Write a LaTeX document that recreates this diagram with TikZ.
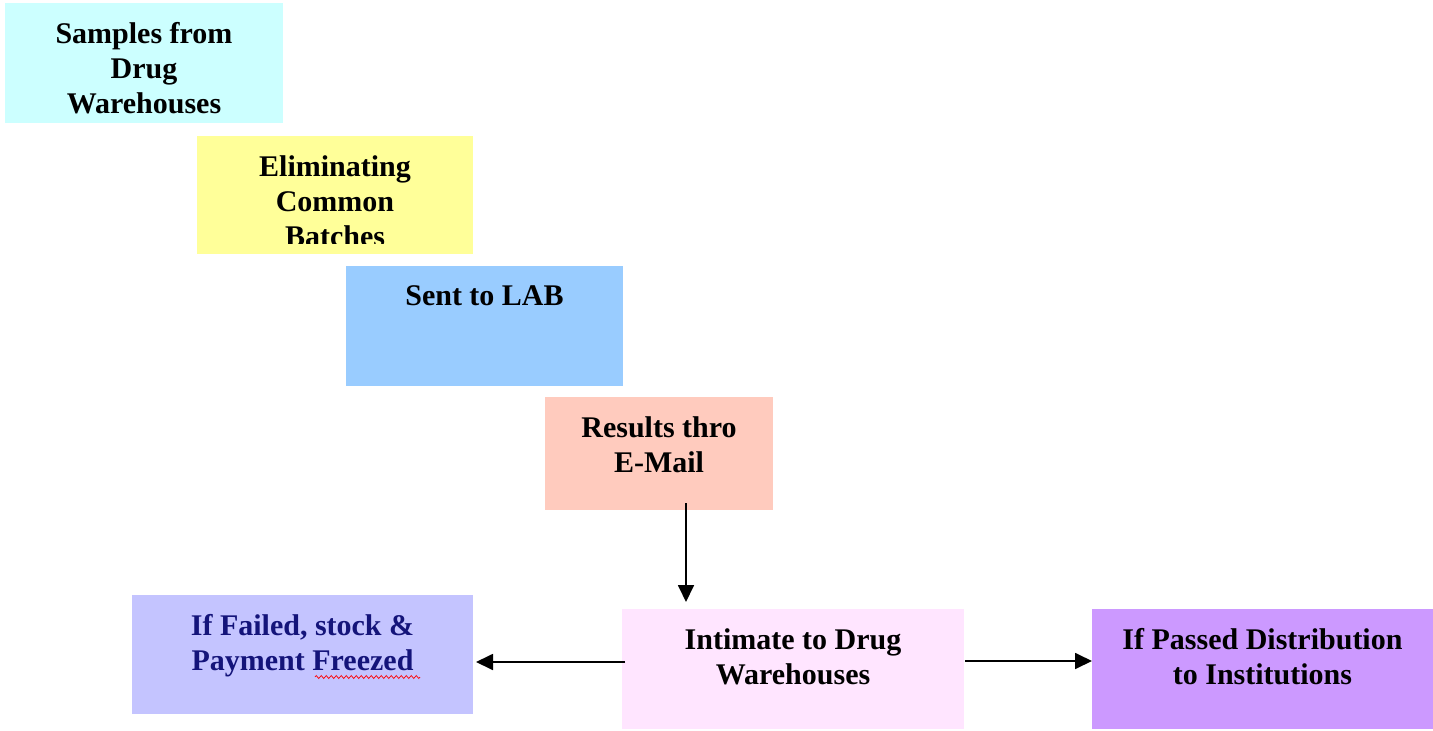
\documentclass[tikz,border=0pt]{standalone}
\usepackage{fontspec}
\setmainfont{Liberation Serif}
\usetikzlibrary{arrows.meta,decorations.pathmorphing}
\definecolor{cA}{HTML}{CCFFFF}
\definecolor{cB}{HTML}{FFFF99}
\definecolor{cC}{HTML}{99CCFF}
\definecolor{cD}{HTML}{FFCBBE}
\definecolor{cE}{HTML}{FFE5FF}
\definecolor{cF}{HTML}{C4C4FF}
\definecolor{cG}{HTML}{CC99FF}
\definecolor{navy}{HTML}{14147A}
\begin{document}
\begin{tikzpicture}[x=1pt,y=-1pt,
  box/.style={rectangle, draw=none, inner sep=0pt, outer sep=0pt},
  txt/.style={font=\fontsize{30}{35}\selectfont\bfseries, align=center, inner sep=0pt, anchor=north},
  arr/.style={line width=1.8pt, -{Triangle[length=17pt,width=16pt]}}]
\useasboundingbox (0,0) rectangle (1433,731);
\fill[white] (0,0) rectangle (1433,731);
\node[box, fill=cA, minimum width=278pt, minimum height=120pt] (n1) at (144,63) {};
\node[box, fill=cB, minimum width=276pt, minimum height=118pt] (n2) at (335,195) {};
\node[box, fill=cC, minimum width=277pt, minimum height=120pt] (n3) at (484.5,326) {};
\node[box, fill=cD, minimum width=228pt, minimum height=113pt] (n4) at (659,453.5) {};
\node[box, fill=cE, minimum width=342pt, minimum height=120pt] (n5) at (793,669) {};
\node[box, fill=cF, minimum width=341pt, minimum height=119pt] (n6) at (302.5,654.5) {};
\node[box, fill=cG, minimum width=341pt, minimum height=120pt] (n7) at (1262.5,669) {};
\node[txt] (t1) at ([yshift=-19pt]n1.north) {Samples from\\Drug\\Warehouses};
\begin{scope}
\clip (197,136) rectangle (473,243);
\node[txt] (t2) at ([yshift=-19pt]n2.north) {Eliminating\\Common\\Batches};
\end{scope}
\node[txt] (t3) at ([yshift=-19pt]n3.north) {Sent to LAB};
\node[txt] (t4) at ([yshift=-19pt]n4.north) {Results thro\\E-Mail};
\node[txt] (t5) at ([yshift=-19pt]n5.north) {Intimate to Drug\\Warehouses};
\node[txt, text=navy] (t6) at ([yshift=-19pt]n6.north) {If Failed, stock \&\\Payment Freezed};
\node[txt] (t7) at ([yshift=-19pt]n7.north) {If Passed Distribution\\to Institutions};
\draw[red, line width=0.7pt, decorate, decoration={zigzag, segment length=5pt, amplitude=1.5pt}] (315,677) -- (420,677);
\draw[arr] ([xshift=27pt,yshift=7pt]n4.south) -- ([xshift=27pt,yshift=7pt]n4.south |- n5.north);
\draw[arr, shorten >=3pt] ([xshift=3pt,yshift=7pt]n5.west) -- ([yshift=7pt]n5.west -| n6.east);
\draw[arr] ([xshift=1pt,yshift=8pt]n5.east) -- ([yshift=8pt]n5.east -| n7.west);
\end{tikzpicture}
\end{document}
